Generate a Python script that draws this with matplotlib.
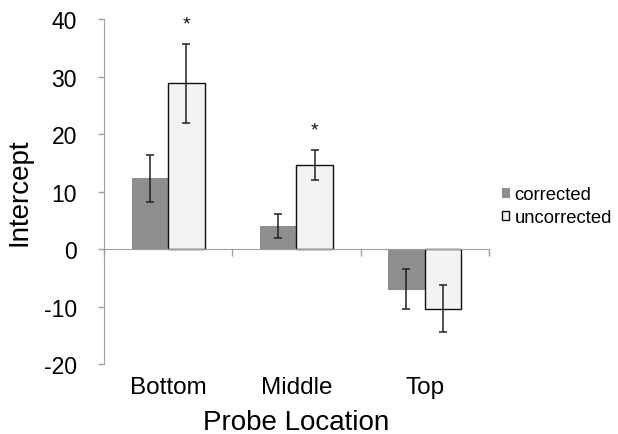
import matplotlib
matplotlib.use("Agg")
import matplotlib.pyplot as plt
from matplotlib.transforms import blended_transform_factory
import numpy as np

plt.rcParams['font.family'] = ['Liberation Sans', 'DejaVu Sans']
plt.rcParams['axes.unicode_minus'] = False

categories = ["Bottom", "Middle", "Top"]
corrected = [12.3, 4.0, -6.95]
corrected_err = [4.15, 2.1, 3.45]
uncorrected = [28.8, 14.7, -10.35]
uncorrected_err = [6.8, 2.6, 4.05]
significant = [True, True, False]
y_ticks = [-20, -10, 0, 10, 20, 30, 40]

fig = plt.figure(figsize=(6.18, 4.35), dpi=100)
ax = fig.add_axes([0.1683, 0.1602, 0.6227, 0.7938])

x = np.arange(len(categories))
w = 0.285
err_kw = dict(ecolor="#222222", elinewidth=1.1, capsize=2.6, capthick=1.1)

ax.bar(x - w / 2, corrected, w, color="#8e8e8e", edgecolor="#8e8e8e",
       linewidth=0.8, label="corrected", zorder=2)
ax.bar(x + w / 2, uncorrected, w, color="#f3f3f3", edgecolor="#111111",
       linewidth=1.0, label="uncorrected", zorder=2)
ax.errorbar(x - w / 2, corrected, yerr=corrected_err, fmt="none", zorder=3, **err_kw)
ax.errorbar(x + w / 2, uncorrected, yerr=uncorrected_err, fmt="none", zorder=3, **err_kw)

for xi, val, err, sig in zip(x, uncorrected, uncorrected_err, significant):
    if sig:
        ax.text(xi + w / 2, val + err + 2.0, "*", ha="center", va="bottom",
                fontsize=14, color="#111111")

ax.set_xlim(-0.5, len(categories) - 0.5)
ax.set_ylim(-20, 40)
ax.set_yticks(y_ticks)
ax.tick_params(axis="y", labelsize=16.5, length=4.5, width=1, color="#a0a0a0", pad=15)

# category axis sits at zero, labels below the plot
spine_col = "#a0a0a0"
for s in ("top", "right"):
    ax.spines[s].set_visible(False)
ax.spines["left"].set_color(spine_col)
ax.spines["bottom"].set_color(spine_col)
ax.spines["bottom"].set_position(("data", 0))
ax.set_xticks(np.arange(len(categories) + 1) - 0.5)
ax.set_xticklabels([])
ax.tick_params(axis="x", direction="out", length=5, width=1, color=spine_col)

trans = blended_transform_factory(ax.transData, ax.transAxes)
for xi, name in zip(x, categories):
    ax.text(xi, -0.065, name, transform=trans, ha="center", va="center", fontsize=17.5)

ax.text(0.5, -0.168, "Probe Location", transform=ax.transAxes, ha="center",
        va="center", fontsize=20)
ax.set_ylabel("Intercept", fontsize=20)
ax.yaxis.set_label_coords(-0.185, 0.5)

leg = ax.legend(loc="center left", bbox_to_anchor=(1.0, 0.458), frameon=False,
                fontsize=13.3, handlelength=0.38, handleheight=0.38,
                handletextpad=0.3, labelspacing=0.35, borderaxespad=0.3)

fig.savefig("out.png", dpi=100)
